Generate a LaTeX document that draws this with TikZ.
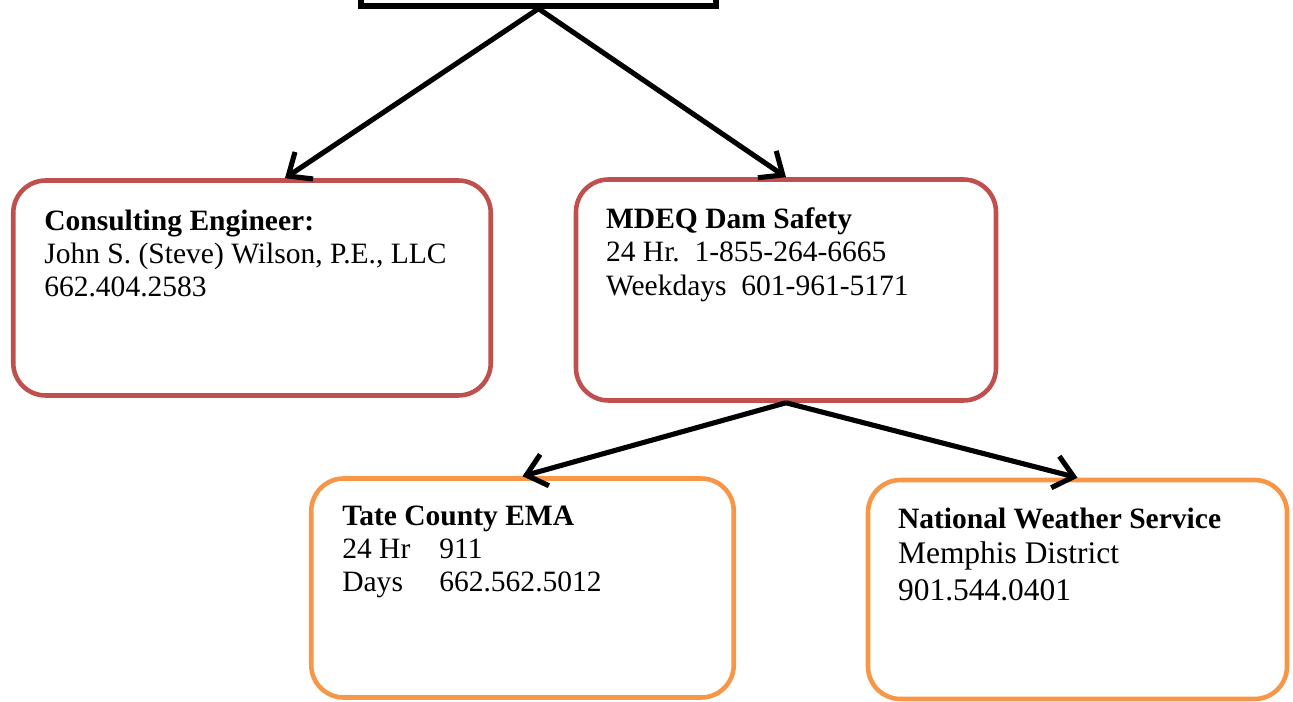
\documentclass[tikz,border=0pt]{standalone}
\usepackage{fontspec}
\setmainfont{Liberation Serif}
\usetikzlibrary{positioning, arrows.meta}
\definecolor{accred}{HTML}{C0504D}
\definecolor{accorange}{HTML}{F79646}
\tikzset{redbox/.style={draw=accred,line width=2.6pt,rounded corners=0.65cm},
         orangebox/.style={draw=accorange,line width=2.6pt,rounded corners=0.65cm},
         info/.style={inner sep=0pt,align=left,font=\fontsize{16.8}{19}\selectfont},
         link/.style={line width=2.9pt,-{Straight Barb[length=3.8mm,width=6.5mm]}},
        }

\begin{document}
\begin{tikzpicture}
        \useasboundingbox(0,0)rectangle(25.86,-14.04);
        \node[draw,line width=3pt,minimum width=7.1cm,minimum height=1.44cm](top)at(10.77,0.6){};
        \node[redbox,minimum width=9.55cm,minimum height=4.3cm](cons)at(5.04,-5.76){};
        \node[redbox,minimum width=8.4cm,minimum height=4.42cm](mdeq)at(15.72,-5.8){};
        \node[orangebox,minimum width=8.45cm,minimum height=4.38cm](tate)at(10.45,-11.76){};
        \node[orangebox,minimum width=8.38cm,minimum height=4.38cm](nws)at(21.55,-11.79){};

        \node[info,below right=0.62cm and 0.66cm of cons.north west](consT){\textbf{Consulting Engineer:}\\John S. (Steve) Wilson, P.E., LLC\\662.404.2583};
        \node[info,below right=0.6cm and 0.64cm of mdeq.north west](mdeqT){\textbf{MDEQ Dam Safety}\\24 Hr.\ \ 1-855-264-6665\\Weekdays\ \ 601-961-5171};
        \node[info,below right=0.58cm and 0.66cm of tate.north west](tateT){\textbf{Tate County EMA}\\\makebox[1.94cm][l]{24 Hr}911\\\makebox[1.94cm][l]{Days}662.562.5012};
        \node[info,below right=0.6cm and 0.64cm of nws.north west](nwsT){\textbf{National Weather Service}\\[1pt]{\fontsize{17.9}{20}\selectfont Memphis District}\\[2pt]{\fontsize{17.9}{20}\selectfont 901.544.0401}};

        \draw[link](top.south)--([xshift=0.66cm]cons.north);
        \draw[link](top.south)--(mdeq.north);
        \draw[link](mdeq.south)--(tate.north);
        \draw[link](mdeq.south)--(nws.north);
    \end{tikzpicture}
\end{document}
